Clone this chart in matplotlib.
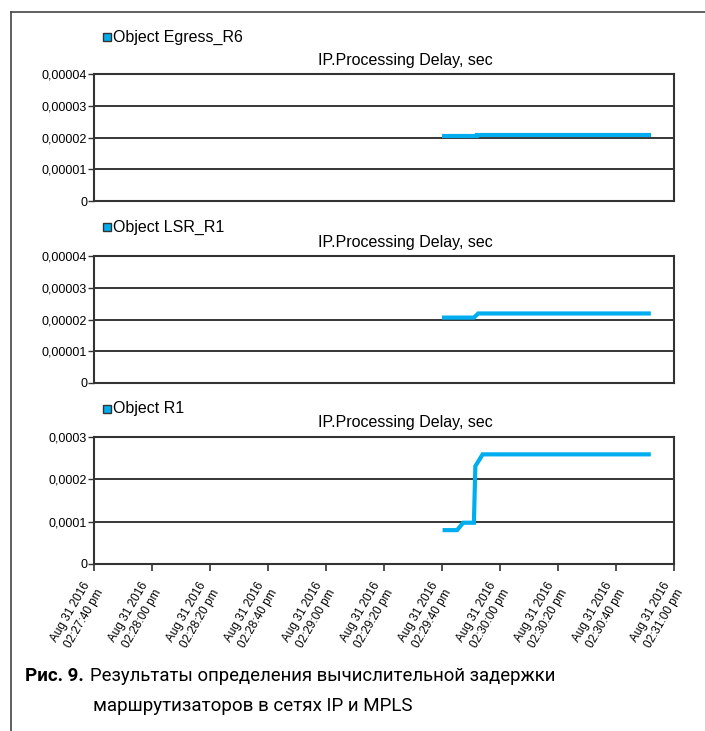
import matplotlib
matplotlib.use('Agg')
import matplotlib.pyplot as plt
from matplotlib.lines import Line2D
from matplotlib.ticker import FixedLocator

plt.rcParams['font.family'] = ['Liberation Sans', 'DejaVu Sans']

# seconds after 02:27:40 pm
x_labels = ['Aug 31 2016\n02:27:40 pm', 'Aug 31 2016\n02:28:00 pm', 'Aug 31 2016\n02:28:20 pm',
            'Aug 31 2016\n02:28:40 pm', 'Aug 31 2016\n02:29:00 pm', 'Aug 31 2016\n02:29:20 pm',
            'Aug 31 2016\n02:29:40 pm', 'Aug 31 2016\n02:30:00 pm', 'Aug 31 2016\n02:30:20 pm',
            'Aug 31 2016\n02:30:40 pm', 'Aug 31 2016\n02:31:00 pm']
x_ticks = [0, 20, 40, 60, 80, 100, 120, 140, 160, 180, 200]

t_egress = [120, 132, 132, 192]
v_egress = [2.05e-5, 2.05e-5, 2.09e-5, 2.09e-5]

t_lsr = [120, 131, 132.5, 192]
v_lsr = [2.06e-5, 2.06e-5, 2.19e-5, 2.19e-5]

t_r1 = [120.2, 125.2, 127.3, 131, 131.5, 134, 192]
v_r1 = [0.80e-4, 0.80e-4, 0.975e-4, 0.975e-4, 2.31e-4, 2.59e-4, 2.59e-4]

names = ['Object Egress_R6', 'Object LSR_R1', 'Object R1']
y_ticks = [[0, 1e-5, 2e-5, 3e-5, 4e-5], [0, 1e-5, 2e-5, 3e-5, 4e-5], [0, 1e-4, 2e-4, 3e-4]]
y_ticklabels = [['0', '0,00001', '0,00002', '0,00003', '0,00004'],
                ['0', '0,00001', '0,00002', '0,00003', '0,00004'],
                ['0', '0,0001', '0,0002', '0,0003']]
series = [(t_egress, v_egress), (t_lsr, v_lsr), (t_r1, v_r1)]

W, H = 705, 731
fig = plt.figure(figsize=(W / 100, H / 100), dpi=100)

line_color = '#00AEEF'
ax_left, ax_right = 94, 674
panels = [(74, 201), (256, 383), (437, 564)]   # top / bottom pixel rows
legend_y = [37, 227, 409]
title_y = [60, 242, 422]

# outer frame
fig.add_artist(Line2D([11 / W, 11 / W], [0, 1 - 12 / H], color='#444444', lw=1.2))
fig.add_artist(Line2D([11 / W, 1], [1 - 12 / H, 1 - 12 / H], color='#444444', lw=1.2))

for i, ((t, v), (top, bot)) in enumerate(zip(series, panels)):
    ax = fig.add_axes([ax_left / W, 1 - bot / H, (ax_right - ax_left) / W, (bot - top) / H])
    ax.plot(t, v, color=line_color, lw=3, solid_joinstyle='miter', solid_capstyle='butt')
    ax.set_xlim(0, 200)
    ax.set_ylim(y_ticks[i][0], y_ticks[i][-1])
    ax.yaxis.set_major_locator(FixedLocator(y_ticks[i]))
    ax.set_yticklabels(y_ticklabels[i], fontsize=9)
    ax.grid(axis='y', color='black', lw=1.1)
    ax.set_axisbelow(True)
    for s in ax.spines.values():
        s.set_color('#333333')
        s.set_linewidth(1.5)
    ax.tick_params(axis='y', length=4, width=1, pad=1, color='#333333')
    if i < 2:
        ax.set_xticks([])
    else:
        ax.set_xticks(x_ticks)
        ax.set_xticklabels(x_labels, fontsize=8.5, rotation=60, ha='right',
                           va='center', rotation_mode='anchor', linespacing=1.3)
        ax.tick_params(axis='x', length=5, width=1.2, pad=11, color='#333333')
    fig.text(405 / W, 1 - title_y[i] / H, 'IP.Processing Delay, sec', fontsize=11.5,
             ha='center', va='center')
    fig.add_artist(Line2D([107 / W], [1 - legend_y[i] / H], marker='s', markersize=5.5,
                          markerfacecolor=line_color, markeredgecolor='#333333',
                          markeredgewidth=1))
    fig.text(113 / W, 1 - legend_y[i] / H, names[i], fontsize=11.5, ha='left', va='center')

# caption
cap_font = ['Roboto', 'DejaVu Sans']
fig.text(25 / W, 1 - 676 / H, 'Рис. 9.', fontsize=13.5, fontweight='bold',
         family=cap_font, ha='left', va='center')
fig.text(90 / W, 1 - 676 / H, 'Результаты определения вычислительной задержки',
         fontsize=13.3, family=cap_font, ha='left', va='center')
fig.text(93 / W, 1 - 706 / H, 'маршрутизаторов в сетях IP и MPLS',
         fontsize=13.5, family=cap_font, ha='left', va='center')

fig.savefig('out.png', dpi=100)
